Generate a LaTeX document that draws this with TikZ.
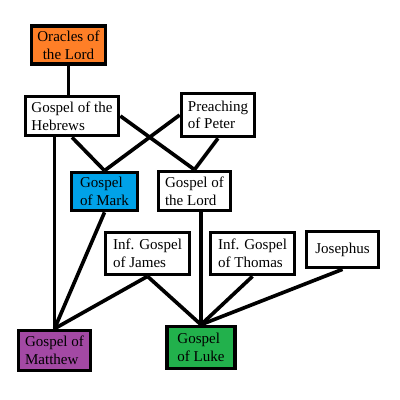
\documentclass[tikz,border=0pt]{standalone}
\usepackage{fontspec}
\setmainfont{Liberation Serif}
\usetikzlibrary{positioning}
\definecolor{oraclesorange}{RGB}{255,127,39}
\definecolor{markblue}{RGB}{0,162,232}
\definecolor{matthewpurple}{RGB}{163,73,164}
\definecolor{lukegreen}{RGB}{34,177,76}

\begin{document}
\begin{tikzpicture}[x=0.025cm, y=-0.025cm,
  gospel/.style={draw=black, line width=2.6pt, fill=white, align=left,
                 inner sep=2pt, font=\fontsize{10.7}{12.5}\selectfont},
  link/.style={line width=2.6pt}]
  \useasboundingbox (0,0) rectangle (400,400);

  \node[gospel, fill=oraclesorange, align=center, minimum width=1.85cm, minimum height=0.95cm]
    (oracles) at (68.5,45) {Oracles of\\the Lord};
  \node[gospel, minimum width=2.325cm, minimum height=0.975cm]
    (hebrews) at (72,116) {Gospel of the\\Hebrews};
  \node[gospel, minimum width=1.825cm, minimum height=1.075cm]
    (peter) at (218,115) {Preaching\\of Peter};
  \node[gospel, fill=markblue, minimum width=1.65cm, minimum height=0.95cm]
    (mark) at (104.5,191.5) {Gospel\\of Mark};
  \node[gospel, minimum width=1.8cm, minimum height=0.975cm]
    (lord) at (194.5,191) {Gospel of\\the Lord};
  \node[gospel, minimum width=2.1cm, minimum height=1.05cm]
    (james) at (147.5,253.5) {Inf. Gospel\\of James};
  \node[gospel, minimum width=2.1cm, minimum height=1.05cm]
    (thomas) at (252.5,253.5) {Inf. Gospel\\of Thomas};
  \node[gospel, minimum width=1.8cm, minimum height=0.9cm]
    (josephus) at (342.5,249.5) {Josephus};
  \node[gospel, fill=matthewpurple, minimum width=1.8cm, minimum height=1.0cm]
    (matthew) at (54.5,350.5) {Gospel of\\Matthew};
  \node[gospel, fill=lukegreen, minimum width=1.7cm, minimum height=1.05cm]
    (luke) at (201,347.5) {Gospel\\of Luke};

  \draw[link] (oracles.south) -- (oracles.south |- hebrews.north);
  \draw[link] (hebrews.south -| matthew.north) -- (matthew.north);
  \draw[link] (hebrews.south) -- (mark.north);
  \draw[link] (hebrews.east) -- (lord.north);
  \draw[link] (peter.west) -- (mark.north);
  \draw[link] (peter.south) -- (lord.north);
  \draw[link] (mark.south) -- (matthew.north);
  \draw[link] (lord.south -| luke.north) -- (luke.north);
  \draw[link] (james.south) -- (matthew.north);
  \draw[link] (james.south) -- (luke.north);
  \draw[link] (thomas.south) -- (luke.north);
  \draw[link] (josephus.south) -- (luke.north);
\end{tikzpicture}
\end{document}
